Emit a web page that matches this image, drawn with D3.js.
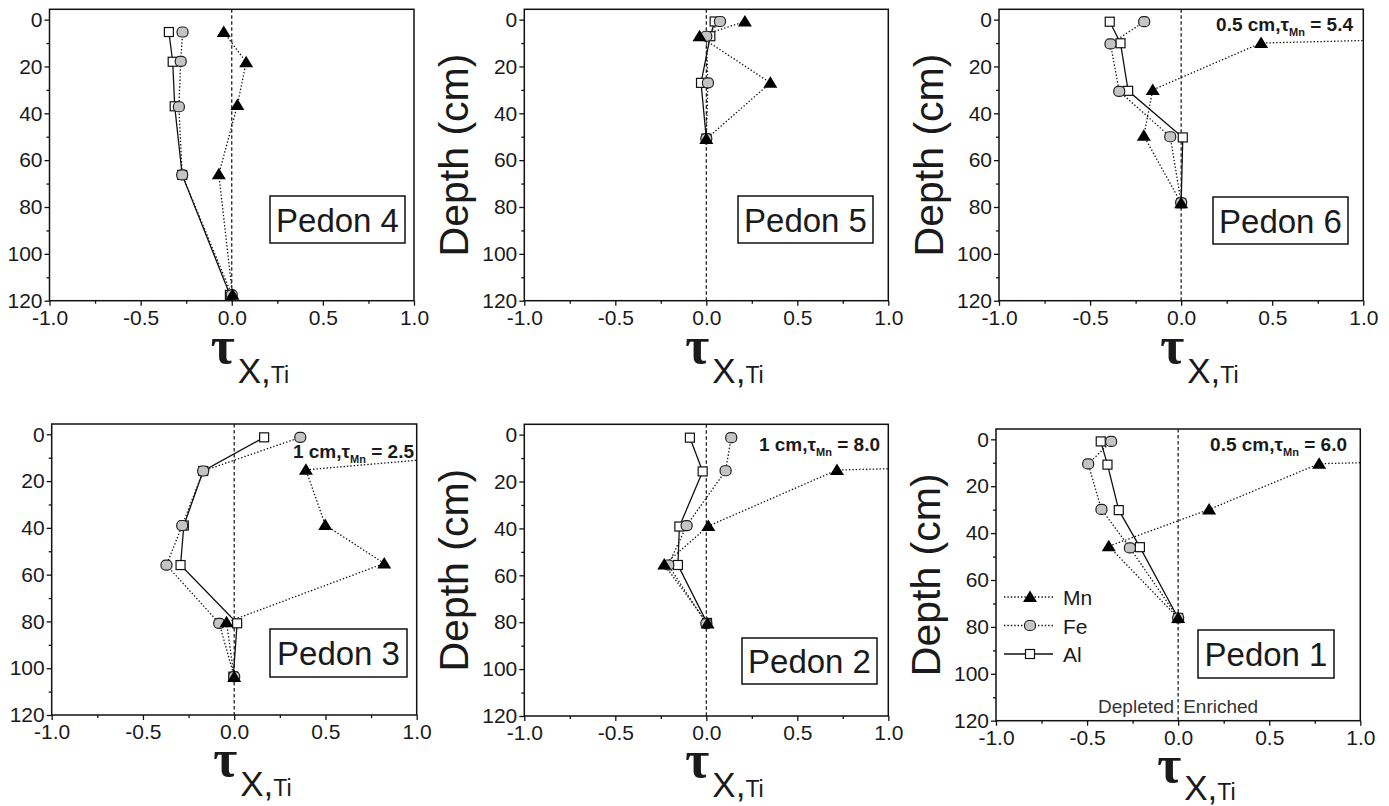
<!DOCTYPE html>
<html>
<head>
<meta charset="utf-8">
<script src="https://cdn.jsdelivr.net/npm/d3@7"></script>
<style>
  body { margin: 0; background: #fff; }
  svg { display: block; font-family: Arial, "Liberation Sans", sans-serif; }
</style>
</head>
<body>
<svg id="chart" width="1389" height="806"></svg>
<script>
// tau values (x) and depths in cm (y)
const p4Al = [[-0.345, 5.3], [-0.324, 18], [-0.313, 37], [-0.272, 66.3], [-0.01, 117.5]];
const p4Fe = [[-0.27, 5.3], [-0.28, 17.8], [-0.29, 37.2], [-0.272, 66.3], [0.0, 117.5]];
const p4Mn = [[-0.044, 5.3], [0.079, 18.2], [0.031, 36.5], [-0.071, 66], [0.004, 117.5]];

const p5Al = [[0.046, 0.8], [0.022, 7.1], [-0.029, 27], [0.0, 50.8]];
const p5Fe = [[0.075, 0.8], [0.0, 7.1], [0.009, 27], [0.0, 50.8]];
const p5Mn = [[0.212, 0.8], [-0.037, 7.1], [0.352, 27], [0.0, 51]];

const p6Al = [[-0.392, 0.9], [-0.333, 10.1], [-0.291, 30.4], [0.009, 50.3], [0.0, 78.4]];
const p6Fe = [[-0.203, 0.9], [-0.388, 10.4], [-0.34, 30.6], [-0.06, 50], [0.0, 78.1]];
const p6Mn = [[5.4, 0.5], [0.439, 10], [-0.156, 30], [-0.205, 49.6], [0.0, 78.4]];

const p3Al = [[0.164, 1.3], [-0.17, 15.7], [-0.276, 39], [-0.294, 55.9], [0.016, 80.8], [-0.005, 103.6]];
const p3Fe = [[0.362, 1.3], [-0.17, 15.7], [-0.285, 39], [-0.371, 55.9], [-0.082, 80.8], [0.0, 103.6]];
const p3Mn = [[2.5, 1], [0.393, 15.2], [0.499, 38.8], [0.822, 55.2], [-0.042, 80.4], [0.0, 103.8]];

const p2Al = [[-0.09, 1.3], [-0.02, 15.7], [-0.148, 39.2], [-0.156, 55.6], [0.004, 80.3]];
const p2Fe = [[0.137, 1.3], [0.106, 15.4], [-0.108, 38.8], [-0.209, 55.6], [0.0, 80.6]];
const p2Mn = [[8.0, 1], [0.718, 15.1], [0.011, 39], [-0.231, 55.4], [0.007, 80.6]];

const p1Al = [[-0.425, 0.9], [-0.388, 10.8], [-0.326, 30.2], [-0.21, 46], [0.0, 76.2]];
const p1Fe = [[-0.368, 0.9], [-0.494, 10.5], [-0.421, 29.9], [-0.265, 46.3], [0.0, 76.2]];
const p1Mn = [[6.0, 0.5], [0.774, 10.4], [0.17, 29.9], [-0.381, 45.6], [0.0, 76.2]];

const xMajor = [-1, -0.5, 0, 0.5, 1];
const xMinor = [-0.75, -0.25, 0.25, 0.75];
const yMajor = [0, 20, 40, 60, 80, 100, 120];
const yMinor = [10, 30, 50, 70, 90, 110];
const elements = ["Mn", "Fe", "Al"];

// panel frames (px) and per-panel decorations
const panels = [
  { name: "Pedon 4", Al: p4Al, Fe: p4Fe, Mn: p4Mn, l: 49.5, r: 414, t: 9.3, b: 300.7, box: [270, 196, 135, 47], depth: false, lab: [62, 82] },
  { name: "Pedon 5", Al: p5Al, Fe: p5Fe, Mn: p5Mn, l: 524.3, r: 888.3, t: 9.3, b: 300.7, box: [738, 196, 135, 47], depth: true, lab: [62, 82] },
  { name: "Pedon 6", Al: p6Al, Fe: p6Fe, Mn: p6Mn, l: 999, r: 1363.3, t: 9.3, b: 300.7, box: [1213, 197, 135, 47], depth: true, lab: [62, 82],
    note: ["0.5 cm,", "5.4"], noteAt: [1353, 31] },
  { name: "Pedon 3", Al: p3Al, Fe: p3Fe, Mn: p3Mn, l: 51.7, r: 416.7, t: 424, b: 715, box: [270, 629, 137, 48], depth: false, lab: [61, 81],
    note: ["1 cm,", "2.5"], noteAt: [414, 458] },
  { name: "Pedon 2", Al: p2Al, Fe: p2Fe, Mn: p2Mn, l: 524.3, r: 888.3, t: 424.3, b: 716, box: [742, 638, 135, 46], depth: true, lab: [61, 81],
    note: ["1 cm,", "8.0"], noteAt: [880, 451] },
  { name: "Pedon 1", Al: p1Al, Fe: p1Fe, Mn: p1Mn, l: 996, r: 1360.3, t: 429, b: 720.7, box: [1198, 630, 136, 48], depth: true, lab: [61, 79],
    note: ["0.5 cm,", "6.0"], noteAt: [1347, 451], legend: true, sides: true }
];

const svg = d3.select("#chart");
const ink = "#1a1a1a";

function drawMarker(g, el, cx, cy) {
  if (el === "Mn") {
    g.append("path")
      .attr("d", `M${cx},${cy - 6.5}L${cx + 7},${cy + 5}L${cx - 7},${cy + 5}Z`)
      .attr("fill", "#000");
  } else if (el === "Fe") {
    g.append("rect")
      .attr("x", cx - 5.5).attr("y", cy - 5).attr("width", 11).attr("height", 10)
      .attr("rx", 4.5).attr("ry", 4.5)
      .attr("fill", "#c4c4c4").attr("stroke", "#222").attr("stroke-width", 1.2);
  } else {
    g.append("rect")
      .attr("x", cx - 4.5).attr("y", cy - 4.5).attr("width", 9).attr("height", 9)
      .attr("fill", "#fff").attr("stroke", "#111").attr("stroke-width", 1.2);
  }
}

function lineStyle(sel, el) {
  sel.attr("fill", "none").attr("stroke", "#111").attr("stroke-width", 1.3);
  if (el !== "Al") sel.attr("stroke-dasharray", "1.4,2");
}

panels.forEach((p, i) => {
  const x = d3.scaleLinear().domain([-1, 1]).range([p.l, p.r]);
  const y = d3.scaleLinear().domain([-4.4, 120]).range([p.t, p.b]);
  const g = svg.append("g");

  const clipId = "clip" + i;
  svg.append("clipPath").attr("id", clipId)
    .append("rect").attr("x", p.l).attr("y", p.t).attr("width", p.r - p.l).attr("height", p.b - p.t);

  // zero line
  g.append("line")
    .attr("x1", x(0)).attr("x2", x(0)).attr("y1", p.t).attr("y2", p.b)
    .attr("stroke", "#111").attr("stroke-width", 1.2).attr("stroke-dasharray", "3.5,2.5");

  const plot = g.append("g").attr("clip-path", `url(#${clipId})`);
  const line = d3.line().x(d => x(d[0])).y(d => y(d[1]));

  ["Al", "Fe", "Mn"].forEach(el => {
    plot.append("path").datum(p[el]).attr("d", line).call(lineStyle, el);
  });
  ["Al", "Fe", "Mn"].forEach(el => {
    p[el].filter(d => d[0] <= 1).forEach(d => drawMarker(plot, el, x(d[0]), y(d[1])));
  });

  // axes
  const xAx = g.append("g").attr("transform", `translate(0,${p.b})`)
    .call(d3.axisBottom(x).tickValues(xMajor).tickSize(5).tickPadding(4).tickFormat(d => d.toFixed(1)));
  g.append("g").attr("transform", `translate(0,${p.b})`)
    .call(d3.axisBottom(x).tickValues(xMinor).tickSize(3).tickFormat(""));
  const yAx = g.append("g").attr("transform", `translate(${p.l},0)`)
    .call(d3.axisLeft(y).tickValues(yMajor).tickSize(5).tickPadding(2).tickFormat(d => d));
  g.append("g").attr("transform", `translate(${p.l},0)`)
    .call(d3.axisLeft(y).tickValues(yMinor).tickSize(3).tickFormat(""));

  g.selectAll(".domain").remove();
  g.selectAll(".tick line").attr("stroke", "#111").attr("stroke-width", 1.3);
  xAx.selectAll("text").attr("font-size", 21).attr("fill", ink);
  yAx.selectAll("text").attr("font-size", 21).attr("fill", ink);

  // frame
  g.append("rect")
    .attr("x", p.l).attr("y", p.t).attr("width", p.r - p.l).attr("height", p.b - p.t)
    .attr("fill", "none").attr("stroke", "#111").attr("stroke-width", 1.5);

  // x label: tau X,Ti
  const lx = x(0) - 21;
  g.append("text").attr("x", lx).attr("y", p.b + p.lab[0])
    .attr("font-family", "'Liberation Serif', 'DejaVu Serif', serif").attr("font-weight", "bold")
    .attr("font-size", 52).attr("fill", ink).text("τ");
  const sub = g.append("text").attr("x", lx + 27).attr("y", p.b + p.lab[1]).attr("fill", ink);
  sub.append("tspan").attr("font-size", 35).text("X,");
  sub.append("tspan").attr("font-size", 23).text("Ti");

  // y label
  if (p.depth) {
    const cy = (p.t + p.b) / 2;
    g.append("text")
      .attr("transform", `translate(${p.l - 56},${cy}) rotate(-90)`)
      .attr("text-anchor", "middle").attr("font-size", 41).attr("fill", ink)
      .text("Depth (cm)");
  }

  // pedon box
  g.append("rect")
    .attr("x", p.box[0]).attr("y", p.box[1]).attr("width", p.box[2]).attr("height", p.box[3])
    .attr("fill", "#fff").attr("stroke", "#111").attr("stroke-width", 1.5);
  g.append("text")
    .attr("x", p.box[0] + p.box[2] / 2).attr("y", p.box[1] + p.box[3] / 2 + 12)
    .attr("text-anchor", "middle").attr("font-size", 33).attr("fill", ink).text(p.name);

  // off-scale Mn note
  if (p.note) {
    const t = g.append("text").attr("x", p.noteAt[0]).attr("y", p.noteAt[1])
      .attr("text-anchor", "end").attr("font-weight", "bold").attr("font-size", 19).attr("fill", ink);
    t.append("tspan").text(p.note[0]);
    t.append("tspan").text("τ");
    t.append("tspan").attr("font-size", 11).attr("dy", 5).text("Mn");
    t.append("tspan").attr("dy", -5).text(" = " + p.note[1]);
  }

  if (p.sides) {
    g.append("text").attr("x", x(0) - 4).attr("y", p.b - 8)
      .attr("text-anchor", "end").attr("font-size", 19).attr("fill", "#333").text("Depleted");
    g.append("text").attr("x", x(0) + 5).attr("y", p.b - 8)
      .attr("font-size", 19).attr("fill", "#333").text("Enriched");
  }

  if (p.legend) {
    elements.forEach((el, k) => {
      const ly = 597 + k * 28.5;
      const lg = g.append("g");
      lg.append("line").attr("x1", 1004).attr("x2", 1053).attr("y1", ly).attr("y2", ly).call(lineStyle, el);
      drawMarker(lg, el, 1030, ly);
      lg.append("text").attr("x", 1063).attr("y", ly + 8).attr("font-size", 21).attr("fill", ink).text(el);
    });
  }
});
</script>
</body>
</html>
